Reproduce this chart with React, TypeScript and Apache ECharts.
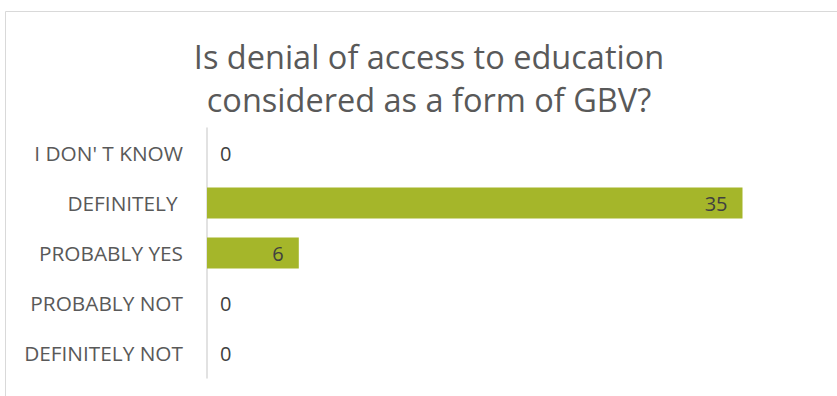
import React, { useEffect, useRef } from "react";
import * as echarts from "echarts";

const titleLines = ["Is denial of access to education", "considered as a form of GBV?"];
const categories = ["I DON' T KNOW", "DEFINITELY ", "PROBABLY YES", "PROBABLY NOT", "DEFINITELY NOT"];
const values = [0, 35, 6, 0, 0];
const axisMax = 40;

export default function App() {
  const ref = useRef<HTMLDivElement>(null);
  useEffect(() => {
    if (!ref.current) return;
    const chart = echarts.init(ref.current, null, { renderer: "svg" });
    const font = "'Open Sans', 'Noto Sans', sans-serif";
    chart.setOption({
      animation: false,
      backgroundColor: "#ffffff",
      title: {
        text: titleLines.join("\n"),
        left: 424,
        top: 30,
        textAlign: "center",
        textStyle: {
          fontFamily: font,
          fontSize: 32.5,
          fontWeight: "normal",
          color: "#595959",
          lineHeight: 43,
        },
      },
      graphic: [
        {
          type: "rect",
          shape: { x: 5.5, y: 11.5, width: 1000, height: 600 },
          style: { fill: "none", stroke: "#d9d9d9", lineWidth: 1 },
          silent: true,
        },
      ],
      grid: { left: 207, right: 18, top: 128, bottom: 18, containLabel: false },
      xAxis: {
        type: "value",
        min: 0,
        max: axisMax,
        show: false,
      },
      yAxis: {
        type: "category",
        data: categories,
        inverse: true,
        axisLine: { show: true, lineStyle: { color: "#d9d9d9", width: 1.5 } },
        axisTick: { show: false },
        splitLine: { show: false },
        axisLabel: {
          margin: 24,
          fontFamily: font,
          fontSize: 20.8,
          color: "#595959",
        },
      },
      series: [
        {
          type: "bar",
          barWidth: 31,
          itemStyle: { color: "#a5b62a" },
          data: values.map((v) => ({
            value: v,
            label: {
              show: true,
              position: v === 0 ? "right" : "insideRight",
              distance: v === 0 ? 13 : 15,
              fontFamily: font,
              fontSize: 20,
              color: "#404040",
            },
          })),
        },
      ],
    });
    return () => chart.dispose();
  }, []);
  return (
    <div
      ref={ref}
      style={{ position: "fixed", left: 0, top: 0, width: 837, height: 396 }}
    />
  );
}
